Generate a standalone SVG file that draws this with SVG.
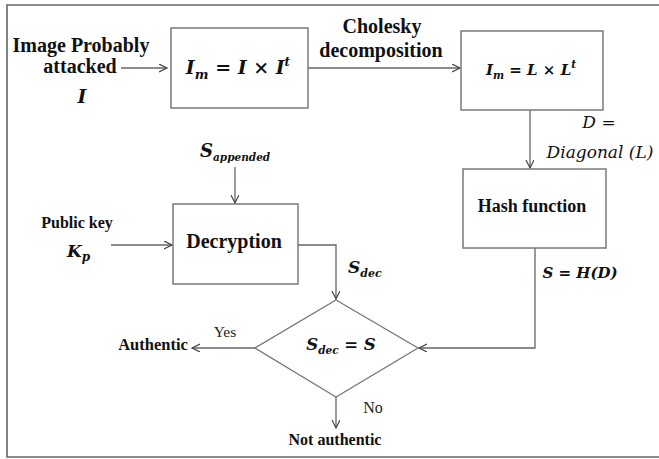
<svg xmlns="http://www.w3.org/2000/svg" width="659" height="459" viewBox="0 0 659 459">
<style>
.box{fill:#fff;stroke:#7a7a7a;stroke-width:1.5}
.ln{fill:none;stroke:#666;stroke-width:1.3}
.t{font-family:"Liberation Serif","Times New Roman",serif;font-weight:bold;fill:#111}
.r{font-family:"Liberation Serif","Times New Roman",serif;fill:#222}
.m{font-family:"DejaVu Serif","Liberation Serif",serif;font-style:italic;font-weight:bold;fill:#111}
.mi{font-family:"DejaVu Serif","Liberation Serif",serif;font-style:italic;fill:#111}
</style>
<defs>
<marker id="ah" markerWidth="10" markerHeight="10" refX="8" refY="4" orient="auto" markerUnits="userSpaceOnUse">
<path d="M0,0 L8,4 L0,8" fill="none" stroke="#444" stroke-width="1.2"/>
</marker>
</defs>
<rect width="659" height="459" fill="#fff"/>
<path d="M659,5 H7 V457 H659" fill="none" stroke="#666" stroke-width="1.6"/>

<g id="connectors">
<path class="ln" d="M121,68 H167" marker-end="url(#ah)"/>
<path class="ln" d="M308,68 H460" marker-end="url(#ah)"/>
<path class="ln" d="M530,110 V168" marker-end="url(#ah)"/>
<path class="ln" d="M535,248 V348 H419" marker-end="url(#ah)"/>
<path class="ln" d="M235,167 V203" marker-end="url(#ah)"/>
<path class="ln" d="M111,245 H172" marker-end="url(#ah)"/>
<path class="ln" d="M298,245 H336 V299" marker-end="url(#ah)"/>
<path class="ln" d="M255,348 H192" marker-end="url(#ah)"/>
<path class="ln" d="M336,397 V428" marker-end="url(#ah)"/>
</g>

<g id="input">
<text class="t" x="81" y="52" font-size="20" text-anchor="middle">Image Probably</text>
<text class="t" x="80" y="73" font-size="20" text-anchor="middle">attacked</text>
<text class="m" x="82" y="103" font-size="19" text-anchor="middle">I</text>
</g>

<g id="cholesky-label">
<text class="t" x="382" y="33" font-size="20" text-anchor="middle">Cholesky</text>
<text class="t" x="381" y="57" font-size="20" text-anchor="middle">decomposition</text>
</g>

<g id="box-im">
<rect class="box" x="171" y="28" width="137" height="80"/>
<text class="m" x="238" y="74" font-size="19" text-anchor="middle">I<tspan font-size="13" dy="5">m</tspan><tspan dy="-5"> = I × I</tspan><tspan font-size="12" dy="-8">t</tspan></text>
</g>

<g id="box-chol">
<rect class="box" x="461" y="31" width="142" height="79"/>
<text class="m" x="531" y="75" font-size="15" text-anchor="middle">I<tspan font-size="10.5" dy="4">m</tspan><tspan dy="-4"> = L × L</tspan><tspan font-size="10.5" dy="-7">t</tspan></text>
</g>

<g id="diag-label">
<text class="mi" x="599" y="128" font-size="17" text-anchor="middle">D =</text>
<text class="mi" x="600" y="158" font-size="17" text-anchor="middle">Diagonal (L)</text>
</g>

<g id="hash">
<rect class="box" x="463" y="169" width="143" height="79"/>
<text class="t" x="532" y="212" font-size="18" text-anchor="middle">Hash function</text>
</g>
<g id="hash-label">
<text class="m" x="580" y="278" font-size="15" text-anchor="middle">S = H(D)</text>
</g>

<g id="sappended">
<text class="m" x="200" y="157" font-size="18">S<tspan font-size="10.5" dy="4">appended</tspan></text>
</g>

<g id="pubkey">
<text class="t" x="77" y="228" font-size="16" text-anchor="middle">Public key</text>
<text class="m" x="67" y="257" font-size="17">K<tspan font-size="12" dy="4">p</tspan></text>
</g>

<g id="decryption">
<rect class="box" x="173" y="204" width="125" height="80"/>
<text class="t" x="234" y="248" font-size="20" text-anchor="middle">Decryption</text>
</g>

<g id="sdec-label">
<text class="m" x="348" y="273" font-size="17">S<tspan font-size="11" dy="4">dec</tspan></text>
</g>

<g id="decision">
<polygon points="336,300 418,348 336,397 255,348" fill="#fff" stroke="#777" stroke-width="1.3"/>
<text class="m" x="341" y="350" font-size="16.5" text-anchor="middle">S<tspan font-size="10.5" dy="4">dec</tspan><tspan dy="-4"> = S</tspan></text>
</g>

<g id="authentic">
<text class="t" x="153" y="350" font-size="16.5" text-anchor="middle">Authentic</text>
<text class="r" x="225" y="337" font-size="15.5" text-anchor="middle">Yes</text>
</g>

<g id="not-authentic">
<text class="t" x="335" y="445" font-size="16" text-anchor="middle">Not authentic</text>
<text class="r" x="373" y="413" font-size="16" text-anchor="middle">No</text>
</g>
</svg>
